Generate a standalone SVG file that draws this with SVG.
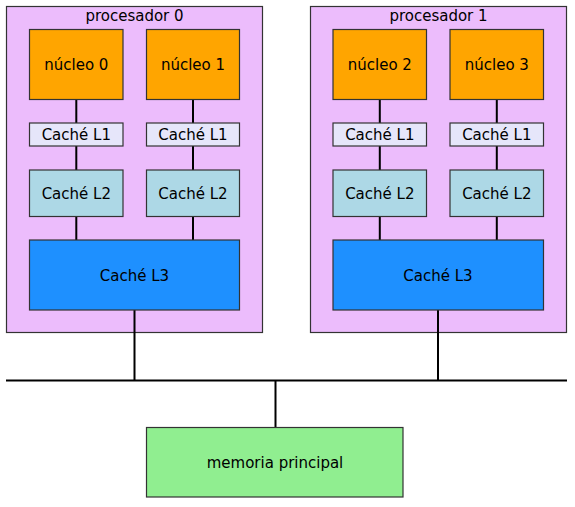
<svg xmlns="http://www.w3.org/2000/svg" width="575" height="507" viewBox="0 0 575 507">
<style>
.box{stroke:#333;stroke-width:1.2}
.proc{fill:#ecbcfc}
.core{fill:#ffa500}
.l1{fill:#e6e6fa}
.l2{fill:#add8e6}
.l3{fill:#1e90ff}
.mem{fill:#90ee90}
text{font-family:"DejaVu Sans",sans-serif;font-size:15px;fill:#000;text-anchor:middle}
.t{dominant-baseline:central}
.title{font-size:15px}
.conn{stroke:#000;stroke-width:2;fill:none}
</style>
<rect width="575" height="507" fill="#fff"/>
<g id="procesador0">
<rect class="box proc" x="6.5" y="6.5" width="256" height="326"/>
<text class="title" x="134.5" y="21">procesador 0</text>
</g>
<g id="procesador1">
<rect class="box proc" x="310.5" y="6.5" width="256" height="326"/>
<text class="title" x="438.5" y="21">procesador 1</text>
</g>
<g id="connectors">
<path class="conn" d="M76.3 99.5V123M76.3 146V170M76.3 216.5V240M193 99.5V123M193 146V170M193 216.5V240M134.5 310V381"/>
<path class="conn" d="M379.8 99.5V123M379.8 146V170M379.8 216.5V240M496.8 99.5V123M496.8 146V170M496.8 216.5V240M438 310V381"/>
<path class="conn" d="M6 380.5H567M275.5 380.5V427"/>
</g>
<g id="nucleo0"><rect class="box core" x="29.5" y="29.5" width="93.5" height="70"/><text class="t" x="76.3" y="65.3">núcleo 0</text></g>
<g id="nucleo1"><rect class="box core" x="146.5" y="29.5" width="93" height="70"/><text class="t" x="193" y="65.3">núcleo 1</text></g>
<g id="nucleo2"><rect class="box core" x="333" y="29.5" width="93.5" height="70"/><text class="t" x="379.8" y="65.3">núcleo 2</text></g>
<g id="nucleo3"><rect class="box core" x="450" y="29.5" width="93.5" height="70"/><text class="t" x="496.8" y="65.3">núcleo 3</text></g>
<g id="l1_0"><rect class="box l1" x="29.5" y="123" width="93.5" height="23"/><text class="t" x="76.3" y="135.3">Caché L1</text></g>
<g id="l1_1"><rect class="box l1" x="146.5" y="123" width="93" height="23"/><text class="t" x="193" y="135.3">Caché L1</text></g>
<g id="l1_2"><rect class="box l1" x="333" y="123" width="93.5" height="23"/><text class="t" x="379.8" y="135.3">Caché L1</text></g>
<g id="l1_3"><rect class="box l1" x="450" y="123" width="93.5" height="23"/><text class="t" x="496.8" y="135.3">Caché L1</text></g>
<g id="l2_0"><rect class="box l2" x="29.5" y="170" width="93.5" height="46.5"/><text class="t" x="76.3" y="194">Caché L2</text></g>
<g id="l2_1"><rect class="box l2" x="146.5" y="170" width="93" height="46.5"/><text class="t" x="193" y="194">Caché L2</text></g>
<g id="l2_2"><rect class="box l2" x="333" y="170" width="93.5" height="46.5"/><text class="t" x="379.8" y="194">Caché L2</text></g>
<g id="l2_3"><rect class="box l2" x="450" y="170" width="93.5" height="46.5"/><text class="t" x="496.8" y="194">Caché L2</text></g>
<g id="l3_0"><rect class="box l3" x="29.5" y="240" width="210" height="70"/><text class="t" x="134.5" y="275.8">Caché L3</text></g>
<g id="l3_1"><rect class="box l3" x="333" y="240" width="210.5" height="70"/><text class="t" x="438" y="275.8">Caché L3</text></g>
<g id="memoria"><rect class="box mem" x="146.5" y="427.5" width="256.5" height="69.5"/><text class="t" x="275" y="462.8">memoria principal</text></g>
</svg>
